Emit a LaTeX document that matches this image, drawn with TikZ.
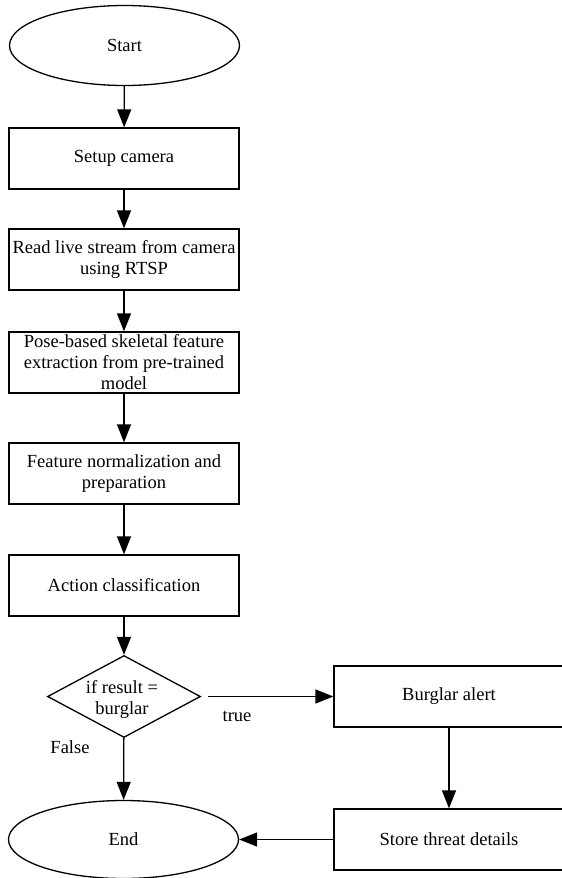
\documentclass[tikz,border=0pt]{standalone}
\usepackage{fontspec}
\setmainfont{Liberation Serif}
\newfontfamily\diagfont{Liberation Serif}
\usetikzlibrary{shapes.geometric,arrows.meta}
\begin{document}
\begin{tikzpicture}[x=1pt,y=-1pt,
  every node/.style={font=\diagfont\fontsize{18.5}{21}\selectfont},
  box/.style={draw,line width=1.3pt,rectangle,minimum width=230pt,minimum height=61pt,inner sep=0pt,align=center},
  term/.style={draw,line width=1.3pt,ellipse,minimum width=230pt,minimum height=80pt,inner sep=0pt},
  decision/.style={draw,line width=1.3pt,diamond,minimum width=153pt,minimum height=82pt,inner sep=0pt,aspect=1.87},
  flow/.style={line width=1.3pt,-{Triangle[length=18pt,width=14pt]}},
  lbl/.style={inner sep=0pt,align=center}]
\useasboundingbox (0,0) rectangle (562,878);
\node[term] (start) at (124.5,45.5) {Start};
\node[box] (setup) at (124,158.5) {Setup camera};
\node[box] (read) at (124,259.5) {Read live stream from camera\\using RTSP};
\node[box] (pose) at (124,362.5) {Pose-based skeletal feature\\extraction from pre-trained\\model};
\node[box] (feat) at (124,473.5) {Feature normalization and\\preparation};
\node[box] (act) at (124,585.5) {Action classification};
\node[decision] (dec) at (124,696.5) {};
\node[lbl] (dectext) at (122,699) {if result =\\burglar};
\node[box] (alert) at (449,696.5) {Burglar alert};
\node[box] (store) at (449,839.5) {Store threat details};
\node[term,minimum height=78pt] (end) at (123.5,839.5) {End};
\node[lbl] (truelbl) at (237,716) {true};
\node[lbl] (falselbl) at (70,747) {False};
\draw[flow] (start) -- (setup);
\draw[flow] (setup) -- (read);
\draw[flow] (read) -- (pose);
\draw[flow] (pose) -- (feat);
\draw[flow] (feat) -- (act);
\draw[flow] (act) -- (dec);
\draw[flow] (dec) -- (end);
\draw[flow,shorten <=7pt] (dec.east) -- (alert.west);
\draw[flow] (alert) -- (store);
\draw[flow] (store) -- (end);
\end{tikzpicture}
\end{document}
